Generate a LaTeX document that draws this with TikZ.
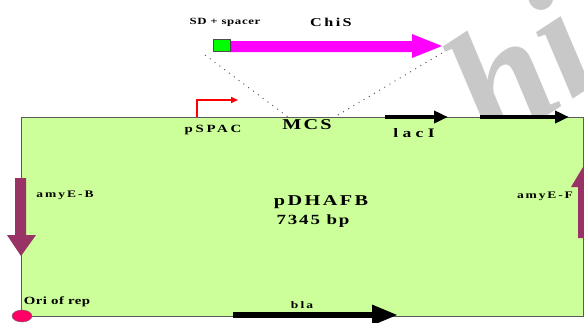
\documentclass[tikz,border=0pt]{standalone}
\usepackage{fontspec}
\setmainfont{Liberation Serif}
\usetikzlibrary{arrows.meta}
\definecolor{plgreen}{RGB}{204,255,153}
\definecolor{amypurple}{RGB}{153,51,102}
\definecolor{chimag}{RGB}{255,0,255}
\definecolor{oripink}{RGB}{255,0,102}
\definecolor{wmgray}{RGB}{200,200,200}
\tikzset{
  lbl/.style={inner sep=0pt, xscale=1.35, transform shape},
  genearrow/.style={line width=4pt, -{Triangle[length=14pt,width=12pt]}},
  dotline/.style={gray!60!black, line width=0.9pt, dash pattern=on 1pt off 5pt},
}
\newcommand{\lf}[2]{\bfseries\fontsize{#1}{#1}\selectfont\addfontfeature{LetterSpace=#2}}
\begin{document}
\begin{tikzpicture}[x=1pt,y=-1pt]
\useasboundingbox (0,0) rectangle (584,322);
\begin{scope}
\clip (0,0) rectangle (584,322);
% dotted MCS lines
\coordinate (dl1) at (205,55);
\coordinate (dl2) at (292,120);
\coordinate (dr1) at (447,50);
\coordinate (dr2) at (333,118);
\draw[dotline] (dl1) -- (dl2);
\draw[dotline] (dr1) -- (dr2);
% ChiS arrow
\fill[chimag] (230,41) -- (412,41) -- (412,34) -- (442,46) -- (412,58) -- (412,52) -- (230,52) -- cycle;
\node[draw=black!70, fill=green, minimum width=17pt, minimum height=12pt, inner sep=0pt, line width=0.8pt] (sd) at (222,45) {};
% watermark
\node[wmgray, font=\bfseries\itshape\fontsize{165}{165}\selectfont, rotate=33, anchor=base west, inner sep=0pt] (wm) at (492,152) {hi};
% plasmid box
\draw[fill=plgreen, draw=gray!70!black, line width=0.9pt] (21,117) rectangle (583,316);
% promoter
\coordinate (p0) at (197,117);
\coordinate (p1) at (197,100);
\coordinate (p2) at (238,100);
\draw[red, line width=1.6pt, -{Triangle[length=7pt,width=6pt]}] (p0) -- (p1) -- (p2);
% lacI arrows
\coordinate (l1a) at (385,117);
\coordinate (l1b) at (448,117);
\coordinate (l2a) at (480,117);
\coordinate (l2b) at (569,117);
\draw[genearrow] (l1a) -- (l1b);
\draw[genearrow] (l2a) -- (l2b);
% bla arrow
\coordinate (b1) at (233,315);
\coordinate (b2) at (398,315);
\draw[line width=6pt, -{Triangle[length=26pt,width=19pt]}] (b1) -- (b2);
% amyE-B arrow
\fill[amypurple] (15,178) -- (26,178) -- (26,235) -- (36,235) -- (21,256) -- (7,235) -- (15,235) -- cycle;
% amyE-F arrow
\fill[amypurple] (578,238) -- (578,187) -- (571,187) -- (583,167) -- (596,187) -- (589,187) -- (589,238) -- cycle;
% ori
\draw[fill=oripink, draw=black!60] (22,316) ellipse (10pt and 6pt);
\end{scope}
% labels
\node[lbl, font=\lf{9.5}{5}] (sdl) at (225,22) {SD + spacer};
\node[lbl, font=\lf{12}{15}] (chis) at (331,22) {ChiS};
\node[lbl, font=\lf{11}{18}] (pspac) at (213,130) {pSPAC};
\node[lbl, font=\lf{15}{10}] (mcs) at (307,125) {MCS};
\node[lbl, font=\lf{13}{25}] (laci) at (414,133) {lacI};
\node[lbl, font=\lf{10}{15}] (amyb) at (65,195) {amyE-B};
\node[lbl, font=\lf{10}{14}] (amyf) at (545,196) {amyE-F};
\node[lbl, font=\lf{15}{12}] (name) at (321,202) {pDHAFB};
\node[lbl, font=\lf{14}{10}] (size) at (313,221) {7345 bp};
\node[lbl, font=\lf{10}{15}] (blal) at (302,305) {bla};
\node[lbl, font=\lf{11}{3}] (oril) at (57,302) {Ori of rep};
\end{tikzpicture}
\end{document}
